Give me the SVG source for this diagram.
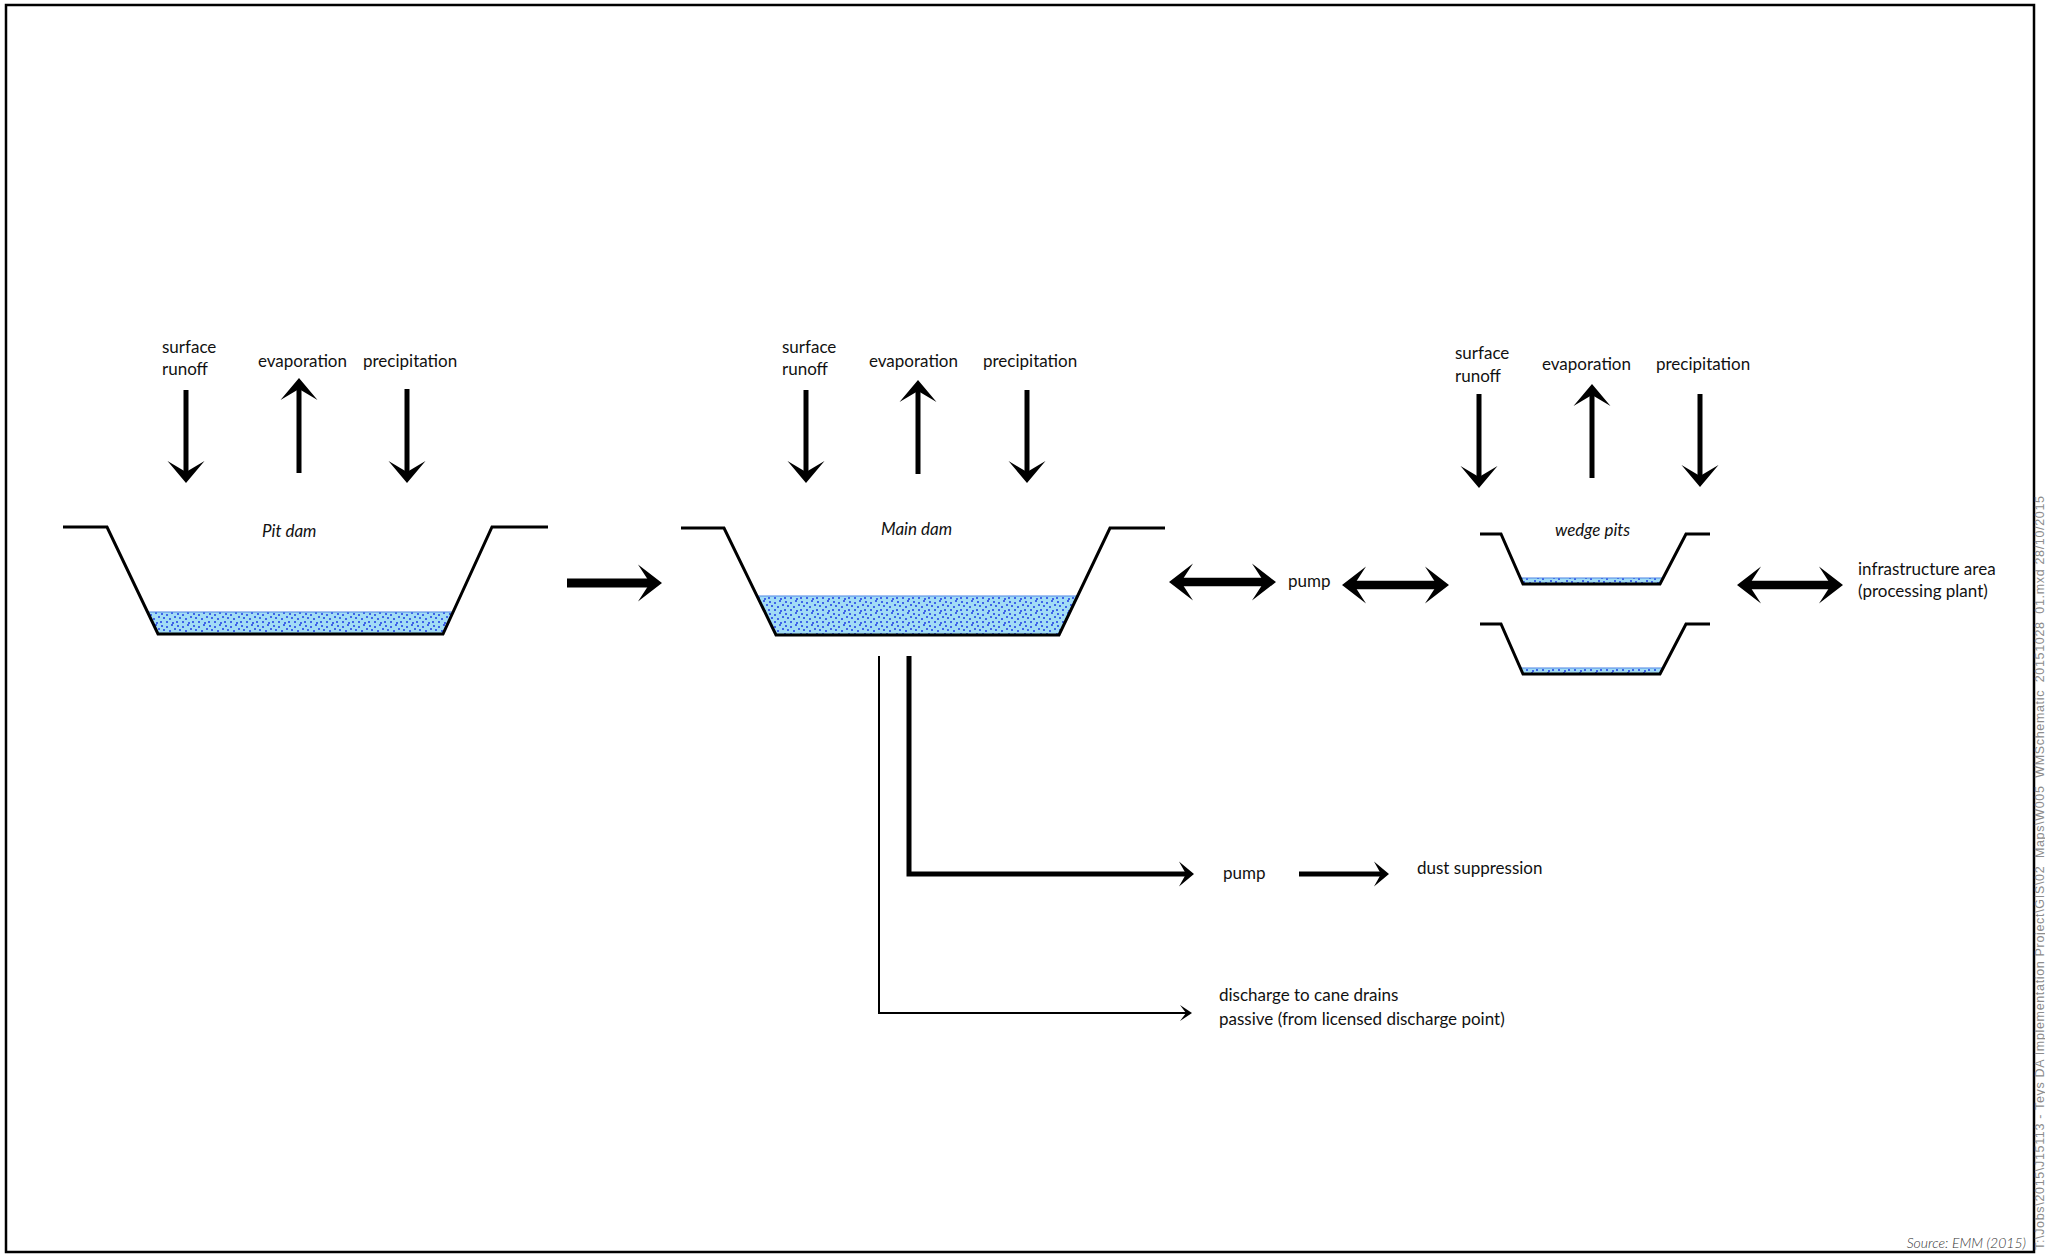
<svg xmlns="http://www.w3.org/2000/svg" xmlns:xlink="http://www.w3.org/1999/xlink" width="2045" height="1255" viewBox="0 0 2045 1255">
<style>
.t{font-family:Lato,"Noto Sans","Liberation Sans",sans-serif;font-size:17px;fill:#111}
.i{font-style:italic}
.prof{fill:none;stroke:#000;stroke-width:3;stroke-linejoin:miter}
.wat{fill:url(#water);stroke:none}
.wtop{stroke:#4f86e6;stroke-width:1.2}
.ln5{stroke:#000;stroke-width:5;fill:none}
.ln9{stroke:#000;stroke-width:9;fill:none}
.ln8{stroke:#000;stroke-width:8.5;fill:none}
.ln2{stroke:#000;stroke-width:2;fill:none}
.hd{fill:#000}
</style>
<defs>
<pattern id="water" patternUnits="userSpaceOnUse" width="16" height="12">
<rect width="16" height="12" fill="#a2dcf5"/>
<g fill="#3f64e8">
<rect x="1" y="1" width="2" height="2"/><rect x="6" y="2" width="2" height="2"/><rect x="11" y="0" width="2" height="2"/>
<rect x="3" y="5" width="2" height="2"/><rect x="9" y="6" width="2" height="2"/><rect x="14" y="4" width="2" height="2"/>
<rect x="0" y="9" width="2" height="2"/><rect x="6" y="9" width="2" height="2"/><rect x="12" y="10" width="2" height="2"/>
</g>
</pattern>
<path id="hA" class="hd" d="M0,0 L-22,-18.5 L-11,0 L-22,18.5 Z"/>
<path id="hB" class="hd" d="M0,0 L-24,-18.5 L-12,0 L-24,18.5 Z"/>
<path id="hC" class="hd" d="M0,0 L-15,-12.5 L-8,0 L-15,12.5 Z"/>
<path id="hD" class="hd" d="M0,0 L-12,-8 L-6,0 L-12,8 Z"/>
</defs>
<rect width="2045" height="1255" fill="#fff"/>
<rect id="frame" x="6" y="5" width="2028" height="1247" fill="none" stroke="#000" stroke-width="2.5"/>

<g id="pit-dam">
<polygon class="wat" points="147.5,612 453,612 443,634 158,634"/>
<line class="wtop" x1="147.5" y1="612" x2="453" y2="612"/>
<path class="prof" d="M63,527 H107 L158,634 H443 L492,527 H548"/>
<text class="t i" x="262" y="537">Pit dam</text>
<text class="t" x="162" y="353">surface</text>
<text class="t" x="162" y="375">runoff</text>
<text class="t" x="258" y="367">evaporation</text>
<text class="t" x="363" y="367">precipitation</text>
<line class="ln5" x1="186" y1="390" x2="186" y2="474"/><use href="#hA" transform="translate(186,483) rotate(90)"/>
<line class="ln5" x1="299" y1="473" x2="299" y2="388"/><use href="#hA" transform="translate(299,378) rotate(-90)"/>
<line class="ln5" x1="407" y1="389" x2="407" y2="474"/><use href="#hA" transform="translate(407,483) rotate(90)"/>
</g>

<g id="main-dam">
<polygon class="wat" points="757,596 1077.6,596 1059,635 776,635"/>
<line class="wtop" x1="757" y1="596" x2="1077.6" y2="596"/>
<path class="prof" d="M681,528 H724 L776,635 H1059 L1110,528 H1165"/>
<text class="t i" x="881" y="535">Main dam</text>
<text class="t" x="782" y="353">surface</text>
<text class="t" x="782" y="375">runoff</text>
<text class="t" x="869" y="367">evaporation</text>
<text class="t" x="983" y="367">precipitation</text>
<line class="ln5" x1="806" y1="390" x2="806" y2="474"/><use href="#hA" transform="translate(806,483) rotate(90)"/>
<line class="ln5" x1="918" y1="474" x2="918" y2="390"/><use href="#hA" transform="translate(918,380) rotate(-90)"/>
<line class="ln5" x1="1027" y1="390" x2="1027" y2="474"/><use href="#hA" transform="translate(1027,483) rotate(90)"/>
</g>

<g id="wedge-pits">
<polygon class="wat" points="1520.4,578 1663,578 1660,584 1523,584"/>
<line class="wtop" x1="1520.4" y1="578" x2="1663" y2="578"/>
<path class="prof" d="M1480,534 H1501 L1523,584 H1660 L1686,534 H1710"/>
<polygon class="wat" points="1520.4,668 1663,668 1660,674 1523,674"/>
<line class="wtop" x1="1520.4" y1="668" x2="1663" y2="668"/>
<path class="prof" d="M1480,624 H1501 L1523,674 H1660 L1686,624 H1710"/>
<text class="t i" x="1555" y="536">wedge pits</text>
<text class="t" x="1455" y="359">surface</text>
<text class="t" x="1455" y="382">runoff</text>
<text class="t" x="1542" y="370">evaporation</text>
<text class="t" x="1656" y="370">precipitation</text>
<line class="ln5" x1="1479" y1="394" x2="1479" y2="479"/><use href="#hA" transform="translate(1479,488) rotate(90)"/>
<line class="ln5" x1="1592" y1="478" x2="1592" y2="394"/><use href="#hA" transform="translate(1592,384) rotate(-90)"/>
<line class="ln5" x1="1700" y1="394" x2="1700" y2="478"/><use href="#hA" transform="translate(1700,487) rotate(90)"/>
</g>

<g id="pump-1"><text class="t" x="1288" y="587">pump</text></g>
<g id="infrastructure"><text class="t" x="1858" y="575">infrastructure area</text><text class="t" x="1858" y="597">(processing plant)</text></g>
<g id="pump-2"><text class="t" x="1223" y="879">pump</text></g>
<g id="dust"><text class="t" x="1417" y="874">dust suppression</text></g>
<g id="discharge"><text class="t" x="1219" y="1001">discharge to cane drains</text><text class="t" x="1219" y="1025">passive (from licensed discharge point)</text></g>

<g id="connectors">
<line class="ln9" x1="567" y1="583" x2="651" y2="583"/><use href="#hB" transform="translate(662,583)"/>
<line class="ln8" x1="1180" y1="582" x2="1265" y2="582"/><use href="#hB" transform="translate(1169,582) rotate(180)"/><use href="#hB" transform="translate(1276,582)"/>
<line class="ln8" x1="1353" y1="585" x2="1438" y2="585"/><use href="#hB" transform="translate(1342,585) rotate(180)"/><use href="#hB" transform="translate(1449,585)"/>
<line class="ln8" x1="1748" y1="585" x2="1832" y2="585"/><use href="#hB" transform="translate(1737,585) rotate(180)"/><use href="#hB" transform="translate(1843,585)"/>
<path class="ln5" d="M909,656 V874 H1187" stroke-linejoin="miter"/><use href="#hC" transform="translate(1194,874)"/>
<path class="ln5" d="M1299,874 H1382"/><use href="#hC" transform="translate(1389,874)"/>
<path class="ln2" d="M879,656 V1013 H1187" stroke-linejoin="miter"/><use href="#hD" transform="translate(1192,1013)"/>
</g>

<text x="2026" y="1248" text-anchor="end" style="font-family:Lato,'Liberation Sans',sans-serif;font-size:14px;font-style:italic;font-weight:300;fill:#333">Source: EMM (2015)</text>
<text transform="translate(2044,1250) rotate(-90)" textLength="754" lengthAdjust="spacing" style="font-family:'Liberation Sans',Arial,sans-serif;font-size:12.5px;fill:#8c8c8c">T:\Jobs\2015\J15113 - Teys DA Implementation Project\GIS\02_Maps\W005_WMSchematic_20151028_01.mxd 28/10/2015</text>
</svg>
